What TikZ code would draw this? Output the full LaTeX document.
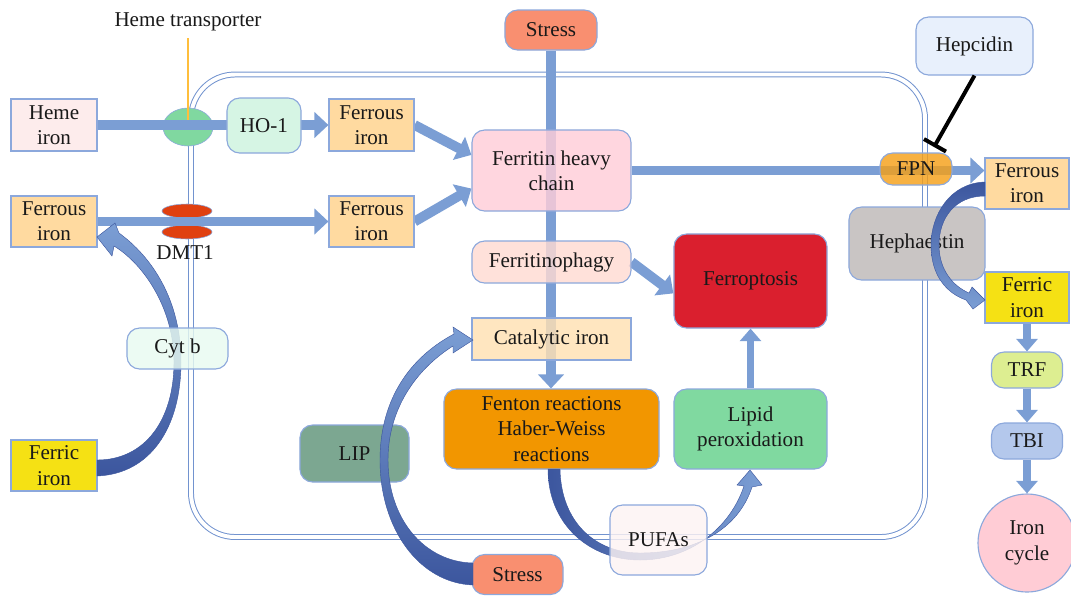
\documentclass[tikz,border=0pt]{standalone}
\usepackage{fontspec}
\setmainfont{Liberation Serif}
\usepackage{tikz}
\usetikzlibrary{arrows.meta,calc,shapes.geometric}

\definecolor{flowblue}{RGB}{123,158,212}
\definecolor{darkflow}{RGB}{60,86,158}
\definecolor{edgeblue}{RGB}{140,168,220}
\definecolor{memblue}{RGB}{114,147,207}
\definecolor{hemepink}{RGB}{253,236,236}
\definecolor{ferrousfill}{RGB}{255,218,160}
\definecolor{ferricfill}{RGB}{245,225,20}
\definecolor{hofill}{RGB}{214,245,228}
\definecolor{stressfill}{RGB}{249,143,112}
\definecolor{ferritinfill}{RGB}{255,205,216}
\definecolor{phagyfill}{RGB}{255,218,210}
\definecolor{catfill}{RGB}{255,225,178}
\definecolor{ptosisfill}{RGB}{218,31,46}
\definecolor{fentonfill}{RGB}{242,150,0}
\definecolor{lipidfill}{RGB}{128,217,160}
\definecolor{lipfill}{RGB}{124,167,145}
\definecolor{pufafill}{RGB}{253,243,243}
\definecolor{cytfill}{RGB}{232,250,240}
\definecolor{hepcfill}{RGB}{232,240,252}
\definecolor{fpnfill}{RGB}{245,160,25}
\definecolor{hephfill}{RGB}{201,197,196}
\definecolor{trffill}{RGB}{221,238,145}
\definecolor{tbifill}{RGB}{180,200,236}
\definecolor{cyclefill}{RGB}{255,204,213}
\definecolor{transgreen}{RGB}{128,216,160}
\definecolor{dmtred}{RGB}{224,64,16}
\definecolor{pinline}{RGB}{255,190,60}

\pgfdeclarelayer{deep}
\pgfdeclarelayer{edges}
\pgfsetlayers{deep,edges,main}

\begin{document}
\begin{tikzpicture}[x=0.025cm,y=-0.025cm,
  every node/.style={font=\fontsize{15}{18}\selectfont,text=black!90,align=center,inner sep=0pt},
  box node/.style={rectangle,draw=edgeblue,line width=0.8pt},
  round node/.style={box node,rounded corners=9pt},
  glass/.style={fill opacity=0.82,text opacity=1},
  flow/.style={draw=flowblue,line width=7pt,-{Triangle[width=18pt,length=10pt]}},
  thin flow/.style={flow,line width=5.5pt,-{Triangle[width=15pt,length=9pt]}}]

  \useasboundingbox (0,0) rectangle (1071,595);

  % cell membrane and carriers
  \begin{pgfonlayer}{deep}
    \draw[memblue,line width=0.7pt,double=white,double distance=2.8pt,rounded corners=1.1cm]
      (191,74.5) rectangle (925,537);
    \node[ellipse,draw=edgeblue,fill=transgreen,minimum width=1.25cm,minimum height=0.95cm] (transporter) at (188,127) {};
    \node[ellipse,draw=edgeblue,fill=dmtred,minimum width=1.25cm,minimum height=0.35cm] (dmtA) at (187,211) {};
    \node[ellipse,draw=edgeblue,fill=dmtred,minimum width=1.25cm,minimum height=0.35cm] (dmtB) at (187,232) {};
  \end{pgfonlayer}

  \node (hemetr) at (188,22) {Heme transporter};
  \node (dmt) at (185,253) {DMT1};

  \node[box node,fill=hemepink,minimum width=2.15cm,minimum height=1.3cm] (hemeiron) at (54,125) {Heme\\iron};
  \node[box node,fill=ferrousfill,minimum width=2.15cm,minimum height=1.275cm] (ferrousL) at (54,221.5) {Ferrous\\iron};
  \node[box node,fill=ferricfill,minimum width=2.15cm,minimum height=1.275cm] (ferricL) at (54,465.5) {Ferric\\iron};
  \node[box node,fill=ferrousfill,minimum width=2.125cm,minimum height=1.3cm] (ferrousA) at (371.5,125) {Ferrous\\iron};
  \node[box node,fill=ferrousfill,minimum width=2.125cm,minimum height=1.275cm] (ferrousB) at (371.5,221.5) {Ferrous\\iron};

  \node[round node,fill=stressfill,minimum width=2.3cm,minimum height=1cm] (stressT) at (551,30) {Stress};
  \node[round node,glass,fill=ferritinfill,minimum width=3.975cm,minimum height=2.025cm] (ferritin) at (551.5,170.5) {Ferritin heavy\\chain};
  \node[round node,glass,fill=phagyfill,minimum width=3.975cm,minimum height=1.05cm] (ferritinophagy) at (551.5,262) {Ferritinophagy};
  \node[box node,glass,fill=catfill,minimum width=3.975cm,minimum height=1.05cm] (catalytic) at (551.5,339) {Catalytic iron};
  \node[round node,fill=fentonfill,minimum width=5.375cm,minimum height=2cm] (fenton) at (551.5,429) {Fenton reactions\\Haber-Weiss\\reactions};
  \node[round node,fill=ptosisfill,minimum width=3.825cm,minimum height=2.35cm] (ferroptosis) at (750.5,281) {Ferroptosis};
  \node[round node,fill=lipidfill,minimum width=3.825cm,minimum height=2cm] (lipid) at (750.5,429) {Lipid\\peroxidation};
  \node[round node,fill=lipfill,minimum width=2.725cm,minimum height=1.425cm] (lip) at (354.5,453.5) {LIP};
  \node[round node,fill=stressfill,minimum width=2.275cm,minimum height=1cm] (stressB) at (517.5,574.5) {Stress};

  \node[round node,fill=hepcfill,minimum width=2.925cm,minimum height=1.45cm] (hepcidin) at (974.5,46) {Hepcidin};
  \node[round node,glass,fill=fpnfill,minimum width=1.8cm,minimum height=0.8cm] (fpn) at (916,169) {FPN};
  \node[box node,fill=ferrousfill,minimum width=2.1cm,minimum height=1.275cm] (ferrousR) at (1027,183.5) {Ferrous\\iron};
  \node[round node,fill=hephfill,minimum width=3.4cm,minimum height=1.825cm] (hephaestin) at (917,243.5) {Hephaestin};
  \node[box node,fill=ferricfill,minimum width=2.1cm,minimum height=1.275cm] (ferricR) at (1027,297.5) {Ferric\\iron};
  \node[round node,fill=trffill,minimum width=1.775cm,minimum height=0.9cm] (trf) at (1027,370) {TRF};
  \node[round node,fill=tbifill,minimum width=1.775cm,minimum height=0.9cm] (tbi) at (1027,441) {TBI};
  \node[circle,draw=edgeblue,line width=0.8pt,fill=cyclefill,minimum size=2.45cm] (ironcycle) at (1027,543) {Iron\\cycle};

  \coordinate (block) at (934,147);

  % straight fluxes
  \begin{pgfonlayer}{edges}
    \draw[pinline,line width=1.2pt,shorten <=5pt,shorten >=5pt] (hemetr.south) -- (transporter.center);
    \draw[flow] (hemeiron) -- (ferrousA);
    \draw[flow] (ferrousL) -- (ferrousB);
    \draw[flow] (ferrousA.east) -- ($(ferritin.north west)!0.31!(ferritin.south west)$);
    \draw[flow] (ferrousB.east) -- ($(ferritin.north west)!0.72!(ferritin.south west)$);
    \draw[flow] (stressT.south) -- (stressT.south |- fenton.north);
    \draw[flow] (ferritin.east) -- (ferritin.east -| ferrousR.west);
    \draw[flow] (ferritinophagy.east) -- ($(ferroptosis.north west)!0.63!(ferroptosis.south west)$);
    \draw[thin flow] (lipid) -- (ferroptosis);
    \draw[thin flow] (ferricR) -- (trf);
    \draw[thin flow] (trf) -- (tbi);
    \draw[thin flow] (tbi) -- (ironcycle);
  \end{pgfonlayer}

  \node[round node,fill=hofill,minimum width=1.85cm,minimum height=1.375cm] (ho1) at (264,125.5) {HO-1};

  \draw[line width=2.8pt,-{Bar[width=18pt]}] (hepcidin.south) -- (block);

  % curved fluxes
  \shade[top color=flowblue,bottom color=darkflow,draw=darkflow,line width=0.3pt]
    (97,476) .. controls (150,474) and (181,428) .. (181,362)
    .. controls (181,300) and (152,257) .. (119,233)
    -- (115,223) -- (97,237) -- (112,256) -- (114,246)
    .. controls (145,265) and (174,310) .. (174,362)
    .. controls (174,420) and (145,460) .. (97,460) -- cycle;
  \shade[top color=flowblue,bottom color=darkflow,draw=darkflow,line width=0.3pt]
    (473,585) .. controls (420,583) and (380,530) .. (380,460)
    .. controls (380,405) and (405,360) .. (454,334)
    -- (453,327) -- (473,340) -- (453,353) -- (453,346)
    .. controls (415,370) and (388,410) .. (388,460)
    .. controls (388,520) and (425,562) .. (473,563) -- cycle;
  \shade[left color=darkflow,right color=flowblue,draw=darkflow,line width=0.3pt]
    (548,469) .. controls (548,525) and (590,560) .. (640,560)
    .. controls (690,560) and (730,528) .. (744,486)
    -- (737,485) -- (750,470) -- (762,485) -- (752,487)
    .. controls (738,530) and (695,553) .. (640,553)
    .. controls (595,553) and (561,522) .. (560,469) -- cycle;
  \shade[top color=darkflow,bottom color=flowblue,draw=darkflow,line width=0.3pt]
    (985,182) .. controls (950,183) and (931,215) .. (931,245)
    .. controls (931,275) and (946,293) .. (966,300)
    -- (973,309) -- (985,300) -- (972,287) -- (969,293)
    .. controls (953,286) and (939,270) .. (939,245)
    .. controls (939,218) and (955,196) .. (985,196) -- cycle;

  \node[round node,glass,fill=cytfill,minimum width=2.525cm,minimum height=1.025cm] (cytb) at (177.5,348.5) {Cyt b};
  \node[round node,glass,fill=pufafill,minimum width=2.425cm,minimum height=1.75cm] (pufas) at (658.5,540) {PUFAs};

\end{tikzpicture}
\end{document}
